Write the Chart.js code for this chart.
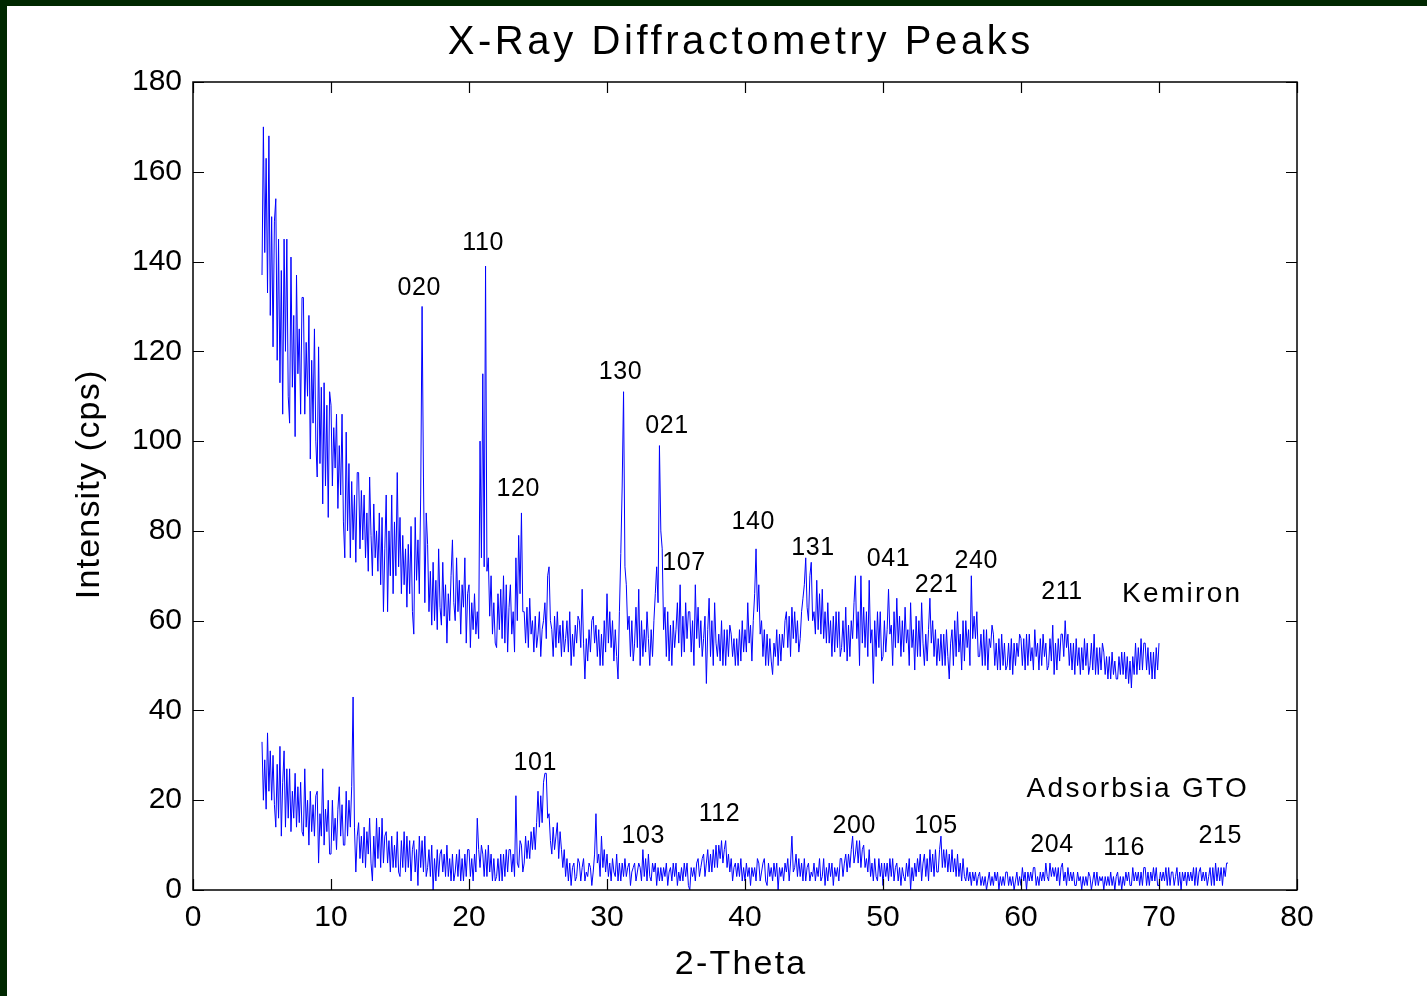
<!DOCTYPE html>
<html>
<head>
<meta charset="utf-8">
<title>X-Ray Diffractometry Peaks</title>
<script src="https://cdn.jsdelivr.net/npm/chart.js@4.4.1/dist/chart.umd.min.js"></script>
<style>
  html, body { margin: 0; padding: 0; background: #002800; overflow: hidden; }
  #frame { position: absolute; left: 7px; top: 6px; width: 1420px; height: 990px; background: #fff; }
  canvas { display: block; }
</style>
</head>
<body>
<div id="frame">
  <canvas id="xrdChart" width="1420" height="990"></canvas>
</div>
<script>
// scan settings (2-theta, degrees)
const scanStep = 0.1;
const kemironStart = 5;
const gtoStart = 5;

// Kemiron scan, 5.0 .. 70.0, one row per degree
const kemironIntensity = [
  137, 170, 142, 163, 133, 168, 128, 150, 121, 149,
  154, 118, 145, 113, 138, 106, 145, 120, 145, 110,
  104, 141, 112, 128, 101, 137, 115, 125, 106, 132,
  132, 106, 122, 110, 128, 96, 118, 104, 125, 100,
  92, 121, 95, 112, 86, 113, 90, 108, 83, 111,
  108, 90, 103, 94, 106, 85, 99, 88, 106, 82,
  74, 102, 80, 95, 74, 91, 78, 88, 73, 93,
  93, 76, 89, 78, 88, 74, 84, 71, 92, 79,
  70, 86, 74, 80, 71, 84, 68, 83, 62, 76,
  88, 62, 80, 70, 88, 66, 82, 70, 93, 72,
  83, 66, 79, 68, 76, 63, 77, 66, 81, 62,
  57, 83, 69, 78, 66, 88, 130, 92, 64, 84,
  77, 62, 71, 59, 73, 60, 69, 58, 76, 63,
  59, 73, 61, 68, 55, 66, 60, 70, 78, 64,
  60, 74, 62, 69, 57, 68, 63, 74, 55, 66,
  68, 54, 64, 58, 66, 57, 62, 56, 100, 74,
  115, 72, 139, 71, 74, 61, 70, 57, 64, 55,
  54, 66, 58, 67, 56, 70, 55, 68, 53, 63,
  68, 57, 62, 53, 74, 60, 79, 66, 84, 62,
  62, 55, 63, 54, 65, 57, 60, 53, 61, 54,
  57, 62, 52, 58, 60, 64, 56, 70, 72, 60,
  58, 52, 61, 54, 62, 55, 59, 52, 60, 53,
  56, 60, 53, 62, 50, 57, 52, 59, 55, 61,
  60, 54, 67, 55, 47, 56, 51, 58, 53, 60,
  61, 55, 59, 52, 58, 50, 57, 50, 60, 53,
  66, 55, 62, 54, 60, 51, 58, 52, 47, 62,
  75, 90, 111, 72, 68, 58, 61, 52, 60, 51,
  55, 63, 54, 67, 50, 60, 52, 58, 53, 62,
  56, 50, 58, 52, 60, 66, 72, 64, 99, 80,
  76, 58, 63, 52, 62, 51, 59, 50, 60, 54,
  58, 64, 55, 68, 52, 61, 53, 64, 56, 62,
  62, 53, 60, 50, 68, 56, 63, 54, 60, 52,
  56, 61, 46, 58, 65, 52, 60, 50, 64, 55,
  52, 57, 51, 60, 50, 58, 50, 58, 52, 59,
  57, 52, 56, 50, 56, 50, 58, 51, 60, 53,
  58, 53, 64, 55, 59, 51, 60, 66, 76, 62,
  68, 57, 60, 52, 58, 50, 57, 50, 56, 51,
  48, 55, 52, 58, 50, 57, 51, 57, 54, 60,
  62, 54, 61, 52, 63, 56, 62, 55, 60, 53,
  56, 62, 65, 68, 74, 63, 60, 70, 73, 60,
  62, 57, 69, 58, 66, 57, 67, 56, 62, 55,
  64, 55, 60, 52, 61, 53, 62, 54, 62, 52,
  54, 60, 53, 63, 51, 59, 52, 60, 56, 64,
  70, 56, 62, 50, 70, 55, 63, 54, 62, 52,
  69, 55, 58, 46, 60, 52, 62, 54, 62, 51,
  52, 60, 53, 58, 67, 57, 59, 50, 62, 54,
  65, 55, 61, 52, 60, 53, 63, 55, 58, 50,
  64, 54, 58, 49, 61, 52, 60, 52, 64, 55,
  50, 57, 51, 58, 65, 55, 60, 52, 58, 50,
  56, 51, 57, 50, 57, 50, 58, 52, 47, 55,
  58, 50, 60, 52, 62, 53, 57, 49, 60, 51,
  60, 54, 58, 50, 70, 56, 61, 56, 62, 52,
  52, 57, 50, 58, 50, 58, 49, 56, 54, 59,
  57, 50, 55, 49, 56, 49, 57, 50, 55, 49,
  50, 55, 49, 56, 48, 55, 50, 55, 52, 57,
  56, 50, 56, 49, 57, 50, 57, 51, 54, 49,
  58, 52, 55, 49, 56, 50, 57, 52, 55, 49,
  50, 56, 51, 59, 48, 55, 49, 56, 51, 57,
  57, 52, 60, 54, 57, 50, 55, 49, 55, 48,
  56, 50, 54, 48, 54, 49, 56, 50, 55, 48,
  50, 55, 49, 57, 48, 54, 48, 54, 49, 55,
  53, 48, 52, 47, 52, 47, 53, 48, 51, 47,
  47, 52, 48, 53, 48, 53, 47, 52, 46, 51,
  45, 52, 48, 55, 48, 54, 49, 56, 49, 55,
  55, 49, 54, 48, 53, 47, 53, 47, 54, 49,
  55
];

// Adsorbsia GTO scan, 5.0 .. 75.0, one row per degree
const gtoIntensity = [
  33, 20, 29, 18, 35, 22, 31, 20, 30, 19,
  14, 28, 16, 32, 12, 24, 31, 14, 27, 16,
  27, 13, 22, 16, 26, 14, 23, 15, 24, 13,
  12, 27, 14, 20, 10, 22, 13, 19, 12, 21,
  22, 6, 17, 12, 27, 10, 18, 13, 20, 8,
  8, 20, 11, 16, 9, 18, 23, 12, 19, 10,
  10, 22, 12, 20, 14, 23, 43, 14, 4, 12,
  15, 7, 12, 6, 14, 5, 13, 8, 16, 6,
  2, 12, 5, 16, 7, 14, 5, 16, 6, 12,
  13, 6, 11, 4, 12, 5, 10, 5, 13, 4,
  3, 11, 5, 13, 4, 12, 5, 11, 2, 9,
  11, 4, 9, 1, 12, 5, 11, 4, 12, 3,
  5, 9, 3, 10, 0, 7, 2, 9, 3, 8,
  9, 4, 8, 3, 10, 3, 7, 2, 8, 2,
  4, 8, 3, 9, 2, 7, 2, 8, 3, 9,
  9, 3, 7, 2, 8, 4, 16, 9, 5, 10,
  8, 3, 9, 3, 10, 4, 8, 2, 7, 2,
  3, 7, 2, 8, 2, 8, 3, 9, 4, 9,
  9, 4, 8, 3, 21, 6, 5, 11, 10, 4,
  6, 12, 7, 11, 7, 13, 9, 14, 9, 15,
  22, 14, 21, 15, 24, 26, 26, 16, 17, 11,
  8, 14, 9, 12, 15, 7, 13, 9, 5, 9,
  3, 7, 2, 6, 1, 5, 6, 2, 3, 7,
  6, 2, 5, 7, 2, 4, 3, 6, 5, 1,
  4, 8, 17, 6, 8, 3, 12, 5, 9, 4,
  8, 3, 6, 2, 7, 4, 3, 8, 2, 6,
  2, 6, 3, 7, 3, 5, 6, 1, 4, 5,
  6, 2, 4, 6, 5, 2, 9, 3, 7, 2,
  8, 3, 2, 6, 4, 6, 1, 5, 2, 5,
  2, 5, 3, 6, 1, 4, 5, 2, 6, 3,
  6, 1, 4, 2, 5, 2, 6, 3, 6, 1,
  0, 5, 3, 5, 2, 6, 7, 3, 5, 7,
  8, 3, 6, 9, 4, 8, 4, 9, 5, 10,
  5, 10, 7, 11, 6, 9, 11, 5, 8, 4,
  7, 2, 5, 6, 3, 6, 3, 7, 2, 5,
  2, 6, 3, 5, 1, 5, 3, 5, 2, 7,
  6, 2, 4, 6, 7, 2, 1, 6, 3, 5,
  2, 6, 3, 6, 0, 5, 3, 5, 2, 6,
  4, 7, 2, 6, 12, 4, 5, 8, 3, 7,
  3, 6, 2, 7, 2, 5, 6, 2, 4, 3,
  6, 2, 5, 3, 7, 2, 3, 7, 1, 5,
  2, 6, 3, 6, 1, 5, 3, 5, 2, 7,
  7, 3, 6, 8, 4, 8, 5, 9, 12, 6,
  8, 11, 6, 11, 5, 9, 10, 5, 7, 4,
  9, 3, 6, 2, 7, 3, 2, 7, 3, 6,
  1, 6, 3, 6, 2, 7, 3, 7, 2, 5,
  6, 2, 5, 1, 5, 3, 2, 6, 3, 7,
  0, 5, 2, 6, 3, 7, 4, 8, 2, 6,
  8, 3, 7, 2, 9, 4, 8, 3, 9, 4,
  4, 9, 12, 5, 9, 5, 9, 4, 8, 4,
  9, 4, 7, 3, 8, 3, 6, 2, 7, 3,
  2, 5, 2, 4, 1, 4, 2, 4, 1, 3,
  4, 1, 3, 1, 3, 0, 2, 4, 1, 3,
  1, 4, 2, 4, 0, 3, 1, 3, 1, 4,
  4, 1, 3, 1, 3, 0, 2, 4, 1, 3,
  1, 5, 2, 4, 0, 4, 2, 4, 2, 5,
  5, 1, 3, 1, 4, 2, 4, 2, 6, 3,
  2, 6, 3, 5, 3, 5, 2, 5, 1, 5,
  6, 2, 4, 1, 5, 2, 4, 2, 4, 1,
  1, 4, 2, 3, 0, 3, 1, 3, 1, 4,
  3, 0, 2, 4, 1, 4, 1, 3, 2, 3,
  0, 3, 1, 3, 1, 4, 1, 3, 0, 3,
  4, 1, 3, 0, 3, 1, 4, 2, 4, 1,
  1, 5, 2, 4, 2, 4, 1, 4, 1, 5,
  5, 1, 4, 1, 4, 2, 5, 2, 5, 1,
  1, 4, 2, 4, 2, 5, 1, 5, 1, 4,
  4, 1, 3, 5, 1, 4, 0, 4, 2, 4,
  1, 4, 2, 4, 2, 5, 1, 5, 1, 4,
  5, 2, 4, 2, 4, 1, 3, 5, 1, 5,
  1, 6, 2, 5, 2, 5, 1, 5, 3, 6,
  6
];

// Miller indices and where each one is written (2-theta, cps)
const kemironPeaks = ["020", "110", "120", "130", "021", "107", "140", "131", "041", "221", "240", "211"];
const kemironPeakPos = [
  [16.38, 134.8], [21.0, 144.8], [23.55, 90.1], [30.96, 116.1], [34.33, 104.1], [35.56, 73.5],
  [40.57, 82.8], [44.9, 77.0], [50.38, 74.5], [53.86, 68.7], [56.73, 74.0], [62.95, 67.1]
];
const gtoPeaks = ["101", "103", "112", "200", "105", "204", "116", "215"];
const gtoPeakPos = [
  [24.78, 29.1], [32.6, 12.8], [38.13, 17.7], [47.9, 15.05], [53.82, 15.05], [62.22, 10.75],
  [67.45, 10.2], [74.42, 12.8]
];
const sampleNames = ["Kemiron", "Adsorbsia GTO"];
const sampleNamePos = [[71.6, 66.55], [68.38, 23.3]];

const FONT = '"Liberation Sans", Arial, Helvetica, sans-serif';

const toPoints = (values, start) => values.map((v, i) => ({ x: start + i * scanStep, y: v }));

const drawText = (ctx, text, px, py, size, spacing) => {
  ctx.font = `${size}px ${FONT}`;
  ctx.letterSpacing = `${spacing}px`;
  ctx.fillText(text, px + spacing / 2, py + 3.5);
};

// MATLAB style box with inward ticks, plus title, axis names and peak labels
const boxAndLabels = {
  id: "boxAndLabels",
  afterDraw(chart) {
    const { ctx, chartArea: a, scales } = chart;
    const xs = scales.x;
    const ys = scales.y;
    ctx.save();
    ctx.strokeStyle = "#000";
    ctx.lineWidth = 1.5;
    ctx.strokeRect(a.left, a.top, a.right - a.left, a.bottom - a.top);

    ctx.lineWidth = 1.2;
    ctx.beginPath();
    xs.ticks.forEach((t) => {
      const px = Math.round(xs.getPixelForValue(t.value)) + 0.5;
      ctx.moveTo(px, a.bottom); ctx.lineTo(px, a.bottom - 11);
      ctx.moveTo(px, a.top); ctx.lineTo(px, a.top + 11);
    });
    ys.ticks.forEach((t) => {
      const py = Math.round(ys.getPixelForValue(t.value)) + 0.5;
      ctx.moveTo(a.left, py); ctx.lineTo(a.left + 11, py);
      ctx.moveTo(a.right, py); ctx.lineTo(a.right - 11, py);
    });
    ctx.stroke();

    ctx.fillStyle = "#000";
    ctx.textAlign = "center";
    ctx.textBaseline = "middle";

    drawText(ctx, "X-Ray Diffractometry Peaks", 732, 33, 40, 3.6);
    drawText(ctx, "2-Theta", 733, 955, 34, 2.2);

    ctx.save();
    ctx.translate(83, 479);
    ctx.rotate(-Math.PI / 2);
    drawText(ctx, "Intensity (cps)", 0, -3.5, 34, 1.2);
    ctx.restore();

    const label = (names, pos, size, spacing) => {
      names.forEach((name, i) => {
        drawText(ctx, name, xs.getPixelForValue(pos[i][0]), ys.getPixelForValue(pos[i][1]), size, spacing);
      });
    };
    label(kemironPeaks, kemironPeakPos, 25, 0.6);
    label(gtoPeaks, gtoPeakPos, 25, 0.6);
    label(sampleNames, sampleNamePos, 28, 2.3);
    ctx.restore();
  },
};

const ctx = document.getElementById("xrdChart");

new Chart(ctx, {
  type: "line",
  data: {
    datasets: [
      {
        label: "Kemiron",
        data: toPoints(kemironIntensity, kemironStart),
        borderColor: "#0000ff",
        borderWidth: 1,
        pointRadius: 0,
        tension: 0,
      },
      {
        label: "Adsorbsia GTO",
        data: toPoints(gtoIntensity, gtoStart),
        borderColor: "#0000ff",
        borderWidth: 1,
        pointRadius: 0,
        tension: 0,
      },
    ],
  },
  options: {
    responsive: false,
    animation: false,
    devicePixelRatio: 1,
    layout: { padding: { top: 76, right: 130, left: 0, bottom: 0 } },
    plugins: {
      legend: { display: false },
      tooltip: { enabled: false },
      title: { display: false },
    },
    scales: {
      x: {
        type: "linear",
        min: 0,
        max: 80,
        grid: { display: false, drawTicks: false },
        border: { display: false },
        ticks: {
          stepSize: 10,
          padding: 10,
          color: "#000",
          font: { family: FONT, size: 30 },
        },
        afterFit: (scale) => { scale.height = 106; },
      },
      y: {
        min: 0,
        max: 180,
        grid: { display: false, drawTicks: false },
        border: { display: false },
        ticks: {
          stepSize: 20,
          padding: 11,
          color: "#000",
          font: { family: FONT, size: 30 },
        },
        afterFit: (scale) => { scale.width = 186; },
      },
    },
  },
  plugins: [boxAndLabels],
});
</script>
</body>
</html>
